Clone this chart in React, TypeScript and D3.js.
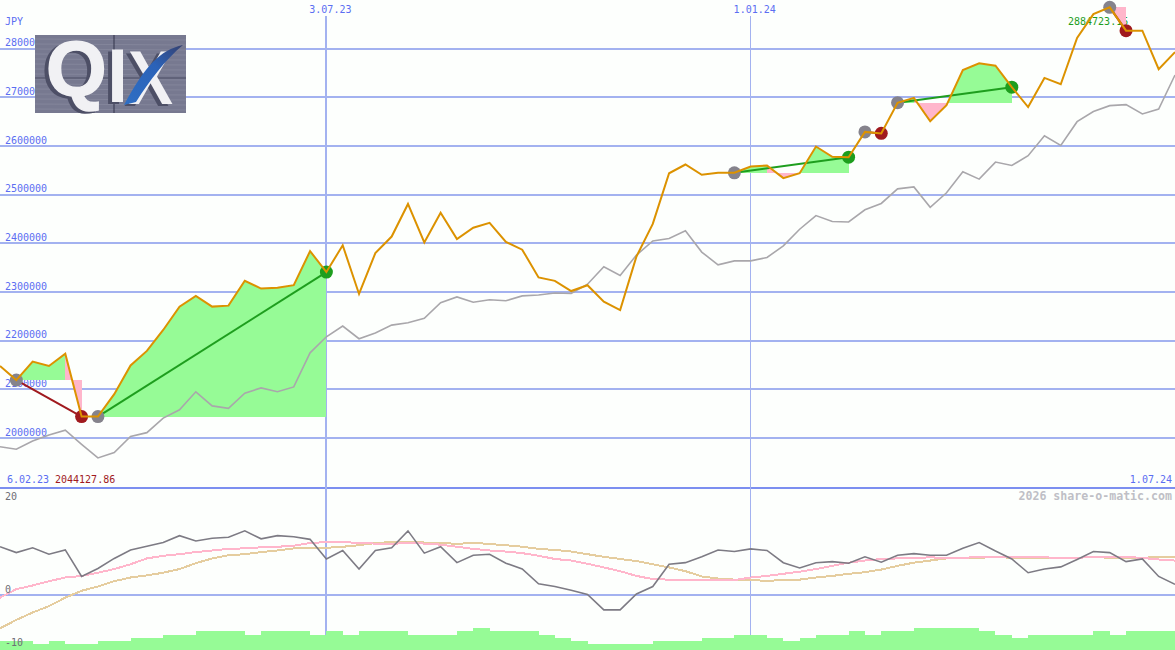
import * as d3 from "d3";

const WIDTH = 1175;
const HEIGHT = 650;

// weekly closes of the fund
const price = [
  2148, 2119, 2157, 2148, 2173, 2044, 2044, 2090, 2149, 2179, 2222, 2270, 2292, 2270, 2272, 2323, 2307, 2309, 2314, 2384,
  2341, 2396, 2296, 2380, 2414, 2481, 2402, 2463, 2409, 2432, 2442, 2403, 2387, 2330, 2323, 2302, 2314, 2280, 2263, 2373,
  2440, 2544, 2562, 2541, 2545, 2545, 2558, 2560, 2534, 2544, 2599, 2578, 2577, 2629, 2626, 2689, 2699, 2651, 2684, 2756,
  2770, 2765, 2721, 2680, 2740, 2727, 2822, 2871, 2885, 2837, 2837, 2758, 2793,
].map((d) => d * 1000);

// benchmark, the grey line
const index = [
  1982, 1977, 1994, 2006, 2016, 1987, 1959, 1970, 2003, 2011, 2041, 2058, 2095, 2066, 2061, 2092, 2103, 2095, 2105, 2175,
  2208, 2230, 2204, 2216, 2232, 2237, 2246, 2278, 2290, 2279, 2284, 2282, 2292, 2294, 2298, 2297, 2316, 2352, 2334, 2376,
  2405, 2410, 2426, 2382, 2356, 2364, 2364, 2371, 2395, 2429, 2457, 2445, 2444, 2469, 2482, 2512, 2516, 2474, 2504, 2547,
  2532, 2567, 2560, 2580, 2621, 2601, 2650, 2671, 2683, 2685, 2666, 2676, 2746,
].map((d) => d * 1000);

// lower panel
const momentum = [
  9.1, 8.0, 8.9, 7.7, 8.5, 3.5, 5.0, 6.9, 8.5, 9.2, 9.9, 11.2, 10.2, 10.7, 10.9, 12.1, 10.6, 11.2, 11.0, 10.5,
  6.8, 8.4, 4.9, 8.4, 8.9, 12.1, 7.9, 9.1, 6.1, 7.5, 7.7, 6.0, 4.9, 2.1, 1.6, 0.9, 0.1, -2.8, -2.8, 0.2,
  1.6, 5.8, 6.1, 7.2, 8.5, 8.2, 8.7, 8.4, 6.1, 5.1, 6.1, 6.3, 6.0, 7.2, 6.2, 7.5, 7.8, 7.5, 7.5, 8.8,
  9.9, 8.3, 6.8, 4.2, 4.9, 5.3, 6.7, 8.2, 8.0, 6.3, 6.8, 3.5, 2.0,
];
const fastAvg = [
  -0.5, 1.1, 1.8, 2.6, 3.3, 3.6, 4.2, 4.9, 5.8, 6.9, 7.4, 7.7, 8.1, 8.4, 8.7, 8.8, 9.0, 9.1, 9.3, 9.8,
  10.0, 10.0, 9.8, 9.7, 9.6, 9.9, 9.7, 9.5, 9.1, 8.7, 8.4, 8.2, 7.9, 7.4, 6.8, 6.5, 5.9, 5.2, 4.5, 3.6,
  3.0, 2.9, 2.8, 2.8, 2.8, 2.8, 3.3, 3.6, 4.0, 4.4, 4.9, 5.5, 6.1, 6.5, 6.8, 6.9, 7.0, 7.1, 7.0, 7.0,
  7.2, 7.2, 7.2, 7.1, 7.1, 7.0, 7.0, 7.2, 7.2, 7.2, 7.0, 6.7, 6.5,
];
const slowAvg = [
  -6.3, -4.7, -3.3, -2.1, -0.5, 0.8, 1.6, 2.6, 3.3, 3.7, 4.2, 4.9, 6.0, 6.9, 7.5, 7.7, 8.1, 8.4, 8.8, 8.9,
  8.9, 9.1, 9.4, 9.8, 10.0, 10.0, 9.9, 9.9, 9.6, 9.9, 9.6, 9.4, 9.1, 8.7, 8.5, 8.2, 7.7, 7.2, 6.8, 6.4,
  5.8, 5.2, 4.5, 3.5, 3.1, 2.9, 2.9, 2.6, 2.9, 2.9, 3.3, 3.6, 4.0, 4.3, 4.8, 5.5, 6.1, 6.5, 6.9, 7.0,
  7.0, 7.2, 7.0, 7.0, 7.0, 7.0, 7.0, 7.2, 7.0, 6.9, 7.0, 7.2, 7.2,
];

// volume level per week, drawn as steps along the bottom edge
const volume = [
  9, 9, 6, 9, 6, 6, 9, 9, 12, 12, 15, 15, 19, 19, 19, 15, 19, 19, 19, 15,
  19, 15, 19, 19, 19, 15, 15, 15, 19, 22, 19, 19, 19, 15, 12, 9, 6, 6, 6, 6,
  9, 9, 9, 12, 12, 15, 15, 12, 9, 12, 15, 15, 19, 15, 19, 19, 22, 22, 22, 22,
  19, 15, 12, 15, 15, 15, 15, 19, 15, 19, 19, 19,
];

// buy and sell weeks
const tradeEntry = [1, 6, 45, 53, 55, 68];
const tradeExit = [5, 20, 52, 54, 62, 69];

const priceTicks = [2000000, 2100000, 2200000, 2300000, 2400000, 2500000, 2600000, 2700000, 2800000];
const panelTicks = [20, 0, -10];
const dateTicks = [20, 46];
const dateLabels = ["3.07.23", "1.01.24"];
const maxLabel = "2884723.15";
const minLabel = "2044127.86";

const BG = "#fdfffd";
const GRID = "#a3b2f0";
const BLUE = "#5b6ef2";
const ORANGE = "#dc9200";
const GREEN = "#1e9e1e";
const RED = "#a01a1e";
const FILL_UP = "#96fb96";
const FILL_DOWN = "#ffb6cb";
const MONO = "'DejaVu Sans Mono', monospace";

const x = d3.scaleLinear().domain([0, price.length - 1]).range([0, WIDTH]);
const y = d3.scaleLinear().domain([2000000, 2800000]).range([438, 48.7]);
const yPanel = d3.scaleLinear().domain([0, 20]).range([595, 489]);
const yVol = d3.scaleLinear().domain([0, 22]).range([HEIGHT, 628]);

const weekLine = d3.line<number>().x((_, i) => x(i)).y((d) => y(d));
const panelLine = d3.line<number>().x((_, i) => x(i)).y((d) => yPanel(d));
const volArea = d3
  .area<number>()
  .x((_, i) => x(i))
  .y0(HEIGHT)
  .y1((d) => yVol(d))
  .curve(d3.curveStepAfter);

// one filled piece per week of a trade, green while above the buy price
function tradeSegments() {
  const segs: { d: string; fill: string }[] = [];
  tradeEntry.forEach((start, t) => {
    const base = price[start];
    for (let i = start; i < tradeExit[t]; i++) {
      const area = d3
        .area<number>()
        .x((w) => x(w))
        .y0(y(base))
        .y1((w) => y(price[w]));
      segs.push({ d: area([i, i + 1]) || "", fill: price[i + 1] >= base ? FILL_UP : FILL_DOWN });
    }
  });
  return segs;
}

function Logo() {
  return (
    <g>
      <defs>
        <linearGradient id="swoosh" x1="0" y1="1" x2="1" y2="0">
          <stop offset="0" stopColor="#2f6fc4" />
          <stop offset="0.6" stopColor="#2b62b8" />
          <stop offset="1" stopColor="#35406f" />
        </linearGradient>
      </defs>
      <rect x={35} y={35} width={151} height={78} fill="#777990" />
      {d3.range(39, 113, 5).map((v) => (
        <line key={v} x1={35} x2={186} y1={v} y2={v + 1} stroke="#8c8ea2" strokeWidth={1} opacity={0.6} />
      ))}
      <line x1={114} x2={114} y1={35} y2={113} stroke="#33354a" strokeWidth={1} />
      <line x1={35} x2={186} y1={78} y2={78} stroke="#4a4c62" strokeWidth={1} />
      <g
        fontFamily="'Liberation Sans', sans-serif"
        fontWeight={700}
        fill="#f1f1f4"
        style={{ filter: "drop-shadow(-4px 2px 0 #4d4f66)" }}
      >
        <text x={46} y={96} fontSize={78} stroke="#f1f1f4" strokeWidth={1.5}>Q</text>
        <text x={107} y={102} fontSize={76}>I</text>
        <text x={128} y={104} fontSize={76} textLength={45} lengthAdjust="spacingAndGlyphs">X</text>
      </g>
      <path d="M183 45C160 50 145 66 124 105L136 102C150 80 165 60 183 45Z" fill="url(#swoosh)" />
    </g>
  );
}

export default function App() {
  const segs = tradeSegments();

  return (
    <svg
      width={WIDTH}
      height={HEIGHT}
      viewBox={`0 0 ${WIDTH} ${HEIGHT}`}
      style={{ position: "absolute", left: 0, top: 0, display: "block", background: BG }}
      fontFamily={MONO}
      fontSize={10}
    >
      {/* grid */}
      <g shapeRendering="crispEdges">
        {priceTicks.map((t) => (
          <line key={t} x1={0} x2={WIDTH} y1={y(t)} y2={y(t)} stroke={GRID} strokeWidth={2} />
        ))}
        <line x1={0} x2={WIDTH} y1={yPanel(0)} y2={yPanel(0)} stroke={GRID} strokeWidth={2} />
        <line x1={0} x2={WIDTH} y1={487.5} y2={487.5} stroke="#7c8ff0" strokeWidth={2} />
        <line x1={x(dateTicks[0])} x2={x(dateTicks[0])} y1={16} y2={HEIGHT} stroke={GRID} strokeWidth={2} />
        <line x1={x(dateTicks[1])} x2={x(dateTicks[1])} y1={16} y2={HEIGHT} stroke={GRID} strokeWidth={1} />
      </g>

      {/* labels sit under the marks */}
      <text x={5} y={25} fill={BLUE}>JPY</text>
      {priceTicks.map((t) => (
        <text key={t} x={5} y={y(t) - 2.5} fill={BLUE}>{t}</text>
      ))}
      {dateTicks.map((t, i) => (
        <text key={t} x={x(t) + 4} y={13} fill={BLUE} textAnchor="middle">{dateLabels[i]}</text>
      ))}
      <text x={7} y={483} fill={BLUE}>6.02.23</text>
      <text x={55} y={483} fill={RED}>{minLabel}</text>
      <text x={1172} y={483} fill={BLUE} textAnchor="end">1.07.24</text>
      <text x={1068} y={25} fill={GREEN}>{maxLabel}</text>
      <text x={1172} y={500} fill="#bfbfc6" textAnchor="end" fontSize={11.6} fontWeight={700}>2026 share-o-matic.com</text>

      {/* trades */}
      <g shapeRendering="crispEdges">
        {segs.map((s, i) => (
          <path key={i} d={s.d} fill={s.fill} />
        ))}
      </g>
      <path d={weekLine(index) || ""} fill="none" stroke="#a9a7ab" strokeWidth={1.6} />
      {tradeEntry.map((start, t) => {
        const end = tradeExit[t];
        const win = price[end] >= price[start];
        return (
          <g key={start}>
            <line x1={x(start)} y1={y(price[start])} x2={x(end)} y2={y(price[end])} stroke={win ? GREEN : RED} strokeWidth={2} />
            <circle cx={x(start)} cy={y(price[start])} r={6.5} fill="#85838c" />
            <circle cx={x(end)} cy={y(price[end])} r={6.5} fill={win ? GREEN : RED} />
          </g>
        );
      })}
      <path d={weekLine(price) || ""} fill="none" stroke={ORANGE} strokeWidth={2} />

      {/* lower panel */}
      <path d={volArea(volume.concat(volume[volume.length - 1])) || ""} fill={FILL_UP} shapeRendering="crispEdges" />
      <path d={panelLine(slowAvg) || ""} fill="none" stroke="#e5cd9f" strokeWidth={2} shapeRendering="crispEdges" />
      <path d={panelLine(fastAvg) || ""} fill="none" stroke="#ffb6cb" strokeWidth={2} shapeRendering="crispEdges" />
      <path d={panelLine(momentum) || ""} fill="none" stroke="#7d7b84" strokeWidth={1.6} />
      {panelTicks.map((t) => (
        <text key={t} x={5} y={t === 20 ? 500 : yPanel(t) - 2} fill="#6e6e76">{t}</text>
      ))}

      <Logo />
    </svg>
  );
}
